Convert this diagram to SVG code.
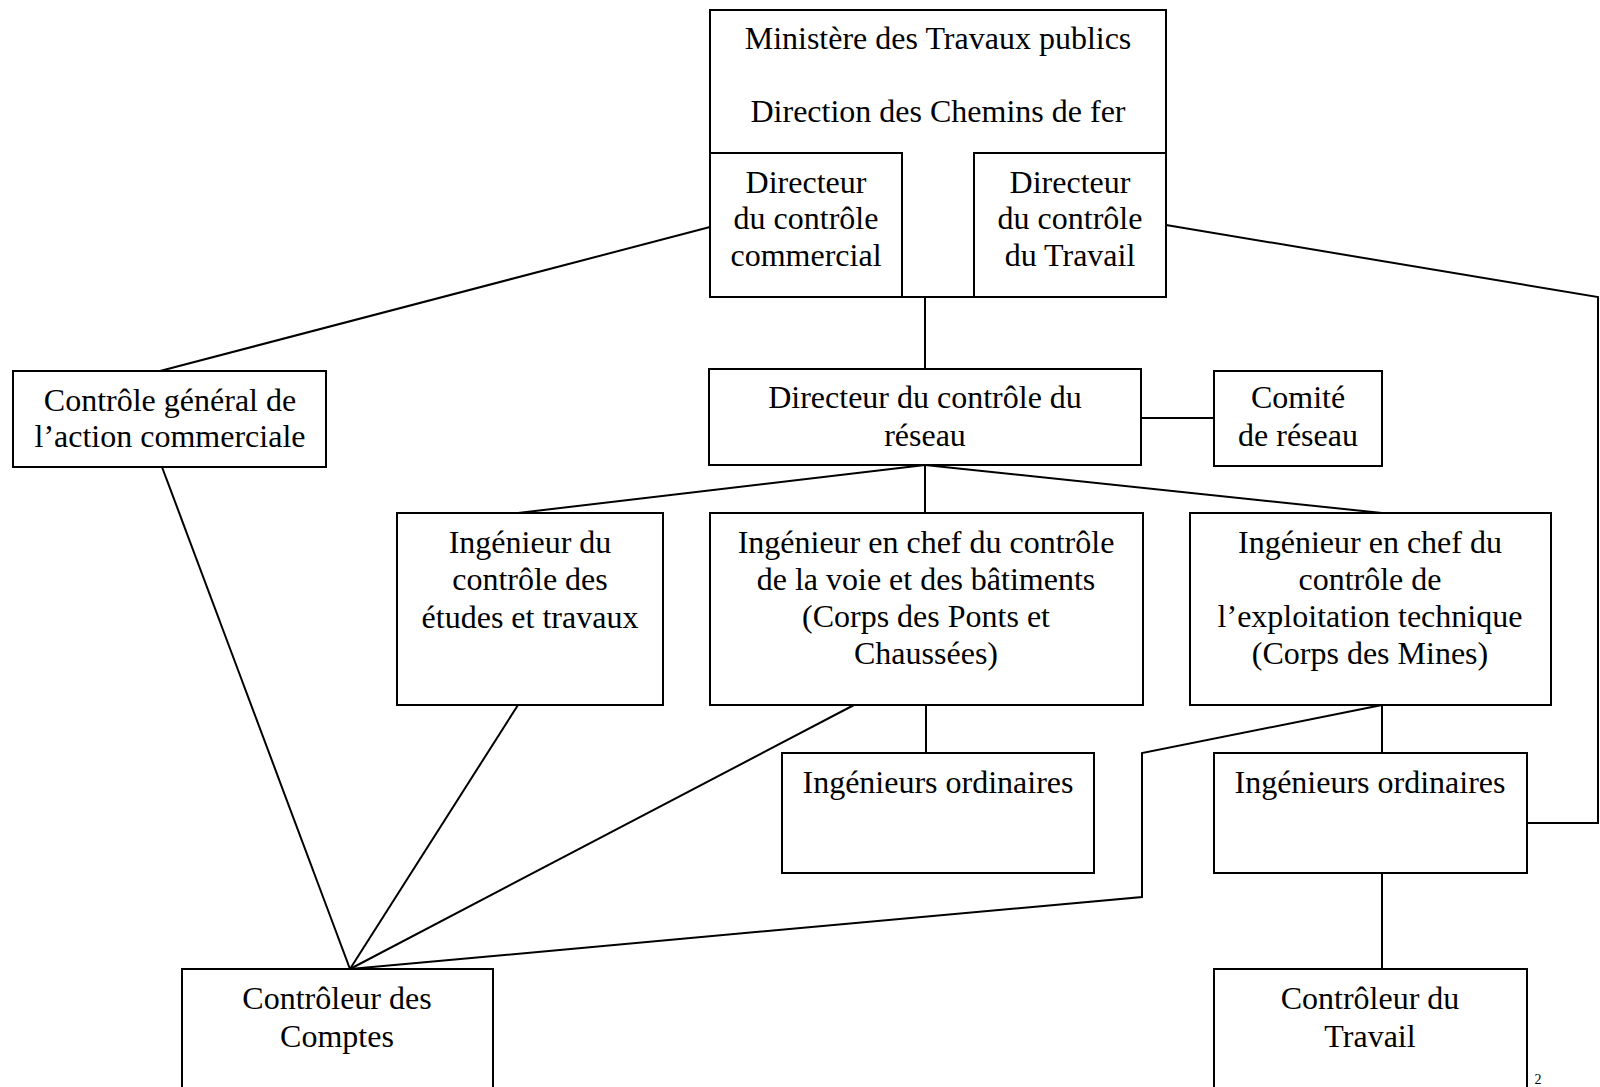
<svg xmlns="http://www.w3.org/2000/svg" width="1600" height="1087" viewBox="0 0 1600 1087">
<style>
.box{fill:#fff;stroke:#000;stroke-width:2}
.ln{fill:none;stroke:#000;stroke-width:2}
text{font-family:"Liberation Serif","Times New Roman",serif;font-size:32px;fill:#000;text-anchor:middle}
</style>
<rect width="1600" height="1087" fill="#fff"/>
<g id="connectors">
<line class="ln" x1="925" y1="297" x2="925" y2="369"/>
<line class="ln" x1="1141" y1="418" x2="1214" y2="418"/>
<line class="ln" x1="710" y1="227" x2="160" y2="371"/>
<polyline class="ln" points="1166,225 1598,297 1598,823 1527,823"/>
<line class="ln" x1="925" y1="465" x2="518" y2="513"/>
<line class="ln" x1="925" y1="465" x2="925" y2="513"/>
<line class="ln" x1="925" y1="465" x2="1382" y2="513"/>
<line class="ln" x1="926" y1="705" x2="926" y2="753"/>
<line class="ln" x1="1382" y1="705" x2="1382" y2="753"/>
<line class="ln" x1="1382" y1="873" x2="1382" y2="969"/>
<line class="ln" x1="162" y1="467" x2="350" y2="969"/>
<line class="ln" x1="518" y1="705" x2="350" y2="969"/>
<line class="ln" x1="854" y1="705" x2="350" y2="969"/>
<polyline class="ln" points="1382,705 1142,753 1142,897 350,969"/>
</g>
<g id="ministere">
<rect class="box" x="710" y="10" width="456" height="287"/>
<text x="938" y="49">Ministère des Travaux publics</text>
<text x="938" y="122">Direction des Chemins de fer</text>
</g>
<g id="dir-commercial">
<rect class="box" x="710" y="153" width="192" height="144"/>
<text x="806" y="193">Directeur</text>
<text x="806" y="229">du contrôle</text>
<text x="806" y="266">commercial</text>
</g>
<g id="dir-travail">
<rect class="box" x="974" y="153" width="192" height="144"/>
<text x="1070" y="193">Directeur</text>
<text x="1070" y="229">du contrôle</text>
<text x="1070" y="266">du Travail</text>
</g>
<g id="controle-general">
<rect class="box" x="13" y="371" width="313" height="96"/>
<text x="170" y="411">Contrôle général de</text>
<text x="170" y="447">l’action commerciale</text>
</g>
<g id="dir-reseau">
<rect class="box" x="709" y="369" width="432" height="96"/>
<text x="925" y="408">Directeur du contrôle du</text>
<text x="925" y="446">réseau</text>
</g>
<g id="comite">
<rect class="box" x="1214" y="371" width="168" height="95"/>
<text x="1298" y="408">Comité</text>
<text x="1298" y="446">de réseau</text>
</g>
<g id="ing-etudes">
<rect class="box" x="397" y="513" width="266" height="192"/>
<text x="530" y="553">Ingénieur du</text>
<text x="530" y="590">contrôle des</text>
<text x="530" y="628">études et travaux</text>
</g>
<g id="ing-voie">
<rect class="box" x="710" y="513" width="433" height="192"/>
<text x="926" y="553">Ingénieur en chef du contrôle</text>
<text x="926" y="590">de la voie et des bâtiments</text>
<text x="926" y="627">(Corps des Ponts et</text>
<text x="926" y="664">Chaussées)</text>
</g>
<g id="ing-exploitation">
<rect class="box" x="1190" y="513" width="361" height="192"/>
<text x="1370" y="553">Ingénieur en chef du</text>
<text x="1370" y="590">contrôle de</text>
<text x="1370" y="627">l’exploitation technique</text>
<text x="1370" y="664">(Corps des Mines)</text>
</g>
<g id="ing-ord-voie">
<rect class="box" x="782" y="753" width="312" height="120"/>
<text x="938" y="793">Ingénieurs ordinaires</text>
</g>
<g id="ing-ord-mines">
<rect class="box" x="1214" y="753" width="313" height="120"/>
<text x="1370" y="793">Ingénieurs ordinaires</text>
</g>
<g id="controleur-comptes">
<rect class="box" x="182" y="969" width="311" height="140"/>
<text x="337" y="1009">Contrôleur des</text>
<text x="337" y="1047">Comptes</text>
</g>
<g id="controleur-travail">
<rect class="box" x="1214" y="969" width="313" height="140"/>
<text x="1370" y="1009">Contrôleur du</text>
<text x="1370" y="1047">Travail</text>
</g>
<text x="1538" y="1084" style="font-size:14px">2</text>
</svg>
